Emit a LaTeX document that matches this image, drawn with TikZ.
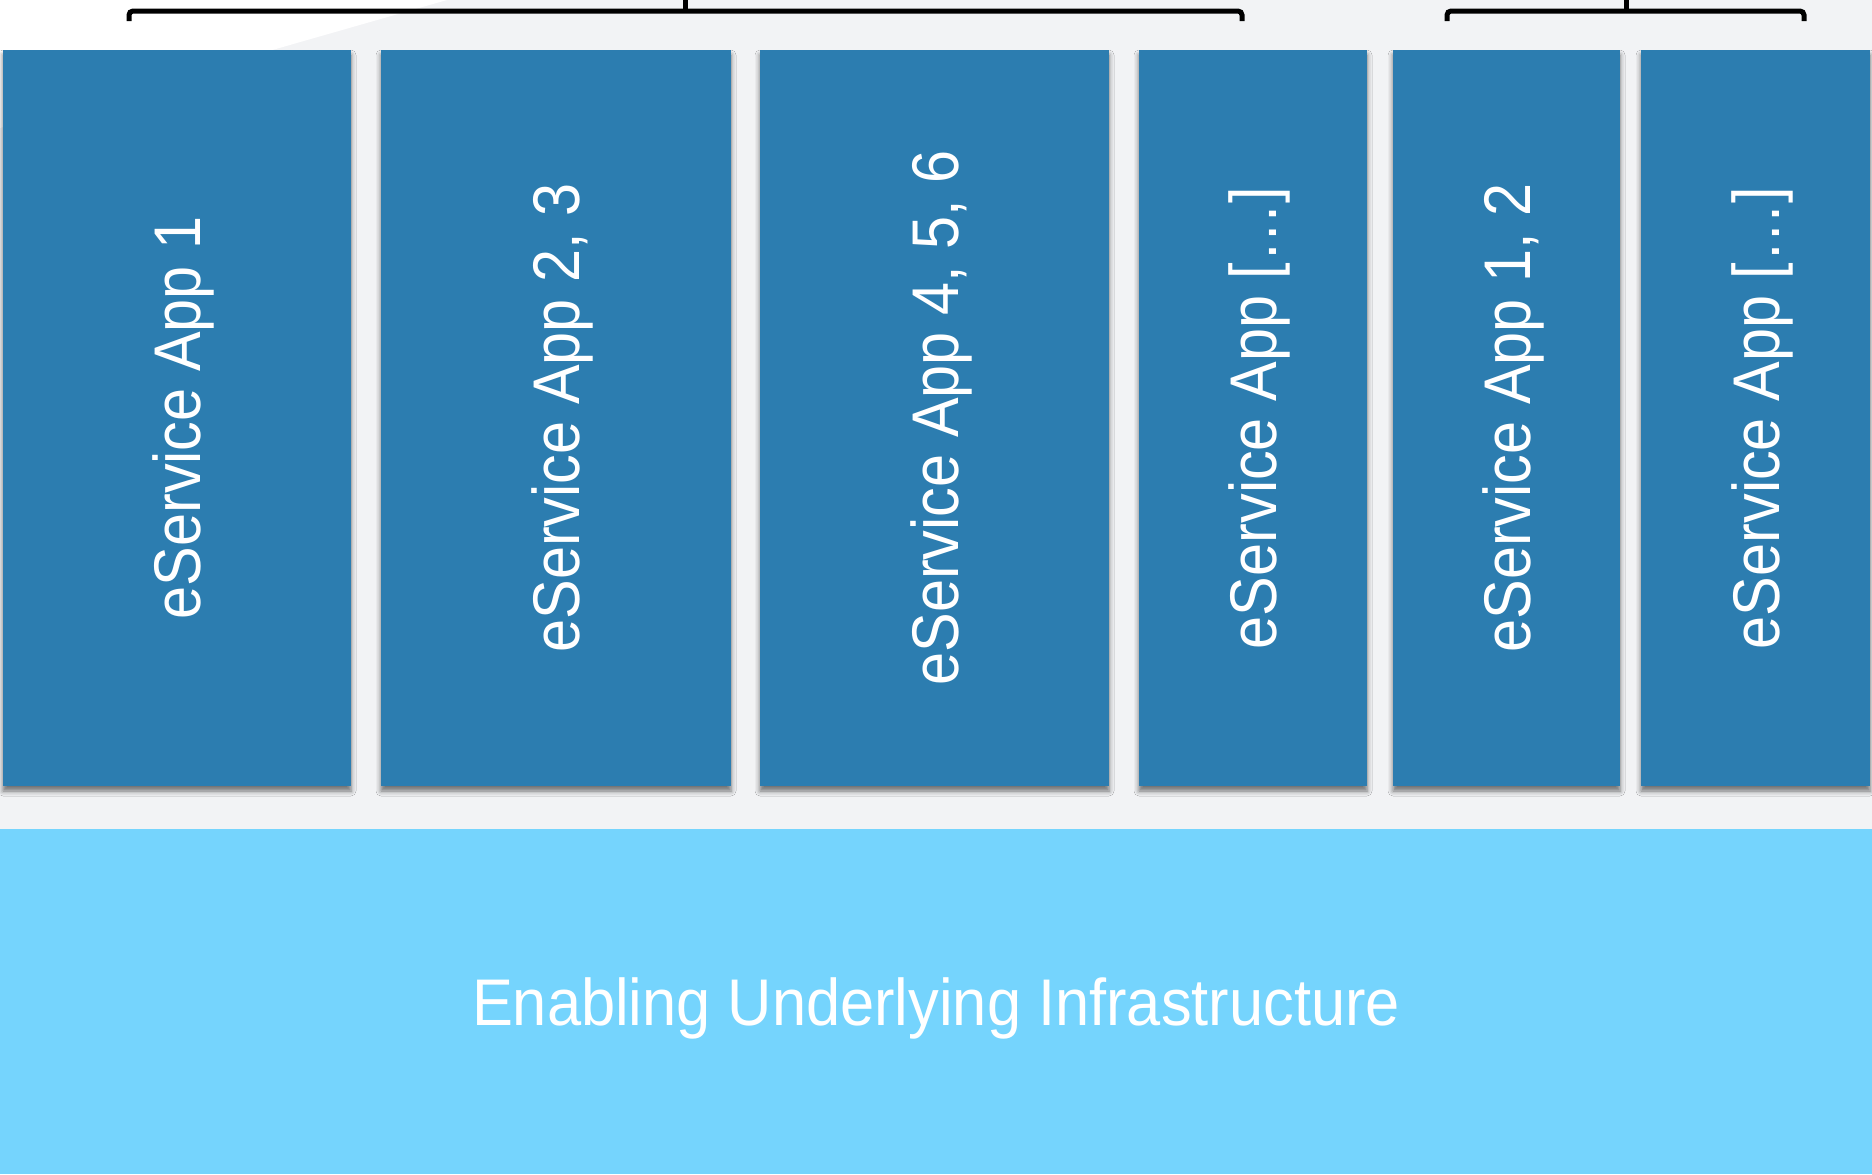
\documentclass[tikz,border=0pt]{standalone}
\usepackage{fontspec}
\newfontfamily\appfont[FakeStretch=0.9]{Liberation Sans}
\newfontfamily\infrafont[FakeStretch=0.93]{Liberation Sans}
\usetikzlibrary{shadows.blur}
\definecolor{bggray}{HTML}{F2F3F5}
\definecolor{appblue}{HTML}{2C7DB0}
\definecolor{infrablue}{HTML}{75D4FD}
\tikzstyle{app} = [fill=appblue, rectangle, inner sep=0pt,
    minimum height=368pt,
    blur shadow={shadow xshift=0pt, shadow yshift=-2.5pt, shadow blur radius=2.5pt, shadow opacity=55}]
\tikzstyle{applabel} = [text=white, rotate=90, inner sep=0pt, text depth=0pt,
    font=\appfont\fontsize{33}{40}\selectfont]
\tikzstyle{infra} = [fill=infrablue, rectangle, inner sep=0pt, text=white, text depth=0pt,
    font=\infrafont\fontsize{33}{40}\selectfont]
\tikzstyle{brace} = [line width=2.5pt, rounded corners=2pt]

\begin{document}
\begin{tikzpicture}[x=0.5pt, y=-0.5pt]
            \useasboundingbox (0,0) rectangle (1872,1174);
            \fill[bggray] (0,0) rectangle (1872,829);
            \fill[white] (0,0) -- (447,0) -- (0,128) -- cycle;

            \node[app, minimum width=174pt, name=app1] at (177, 418) {};
            \node[app, minimum width=175pt, name=app2] at (556, 418) {};
            \node[app, minimum width=174.5pt, name=app3] at (934.5, 418) {};
            \node[app, minimum width=114pt, name=app4] at (1253, 418) {};
            \node[app, minimum width=113.5pt, name=app5] at (1506.5, 418) {};
            \node[app, minimum width=114.5pt, name=app6] at (1755.5, 418) {};

            \node[applabel, name=lab1] at (app1) {eService App 1};
            \node[applabel, name=lab2] at (app2) {eService App 2, 3};
            \node[applabel, name=lab3] at (app3) {eService App 4, 5, 6};
            \node[applabel, name=lab4] at (app4) {eService App […]};
            \node[applabel, name=lab5] at (app5) {eService App 1, 2};
            \node[applabel, name=lab6] at (app6) {eService App […]};

            \node[infra, minimum width=936pt, minimum height=172.5pt, name=infra] at (936, 1001.5) {Enabling Underlying Infrastructure};

            % group braces
            \coordinate (left1) at (129, 21);
            \coordinate (right1) at (1242, 21);
            \coordinate (mid1) at (685, 11);
            \coordinate (left2) at (1447, 21);
            \coordinate (right2) at (1804, 21);
            \coordinate (mid2) at (1626, 11);
            \draw[brace] (left1) |- (mid1) -| (right1);
            \draw[brace] (mid1) -- ++(0,-12);
            \draw[brace] (left2) |- (mid2) -| (right2);
            \draw[brace] (mid2) -- ++(0,-12);
        \end{tikzpicture}
\end{document}
